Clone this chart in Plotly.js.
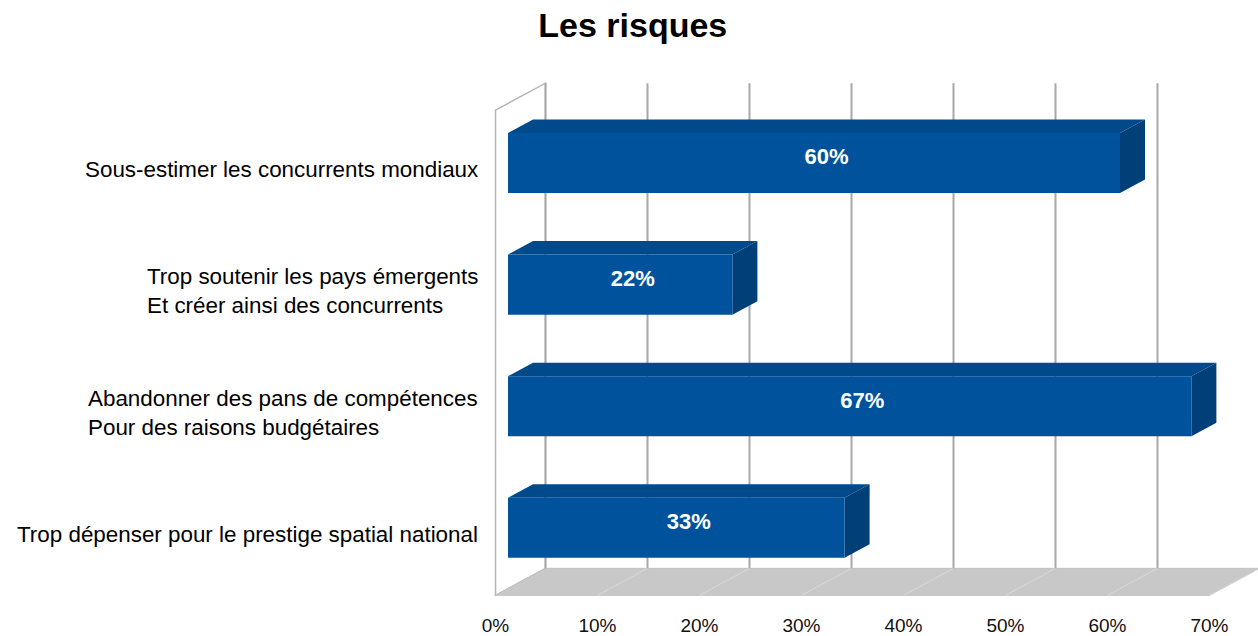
<!DOCTYPE html>
<html><head><meta charset="utf-8">
<script src="https://cdn.plot.ly/plotly-3.0.1.min.js"></script>
<style>html,body{margin:0;padding:0;background:#fff}#chart{width:1258px;height:636px}</style>
</head><body><div id="chart"></div>
<script>
const chartTitle = 'Les risques';
const categories = [
  'Sous-estimer les concurrents mondiaux',
  'Trop soutenir les pays émergents<br>Et créer ainsi des concurrents',
  'Abandonner des pans de compétences<br>Pour des raisons budgétaires',
  'Trop dépenser pour le prestige spatial national'
];
const values = [60, 22, 67, 33];
const tickValues = [0, 10, 20, 30, 40, 50, 60, 70];
const tickLabels = ['0%', '10%', '20%', '30%', '40%', '50%', '60%', '70%'];

// ---- layout geometry (pixels) ----
const W = 1258, H = 636, MB = 36;
const plotH = H - MB;
const pxPerX = 10.2, zeroPx = 508;
const pxPerY = 121.6, firstPx = 163;
const toX = px => px / pxPerX;
const toY = px => px / pxPerY;
const xr = [-zeroPx / pxPerX, (W - zeroPx) / pxPerX];
const yr = [(plotH - firstPx) / pxPerY, -firstPx / pxPerY];
const DX = 50, DY = 27;               // full depth of the 3D box
const front = {x: toX(-0.25 * DX), y: toY(0.25 * DY)};
const back = {x: toX(0.75 * DX), y: toY(-0.75 * DY)};
const barBack = {x: toX(0.5 * DX), y: toY(-0.5 * DY)};
const labelShift = {x: toX(0.25 * DX), y: toY(-0.15 * DY)};
const idx = categories.map((c, i) => i);
const floorY = categories.length - 0.5;
const wallTop = -0.49;
const xMax = tickValues[tickValues.length - 1];
const half = 0.247;

const C_FRONT = '#00529c', C_TOP = '#004a8c', C_SIDE = '#003f78';
const FONT = '"Liberation Sans", Arial, sans-serif';

const poly = pts => 'M ' + pts.map(p => p[0] + ',' + p[1]).join(' L ') + ' Z';
const shapes = [];
// left wall
shapes.push({type: 'path', xref: 'x', yref: 'y', layer: 'below',
  path: poly([[front.x, floorY + front.y], [back.x, floorY + back.y], [back.x, wallTop + back.y], [front.x, wallTop + front.y]]),
  fillcolor: '#ffffff', line: {color: '#b5b5b5', width: 1.5}});
// floor
shapes.push({type: 'path', xref: 'x', yref: 'y', layer: 'below',
  path: poly([[front.x, floorY + front.y], [xMax + front.x, floorY + front.y], [xMax + back.x, floorY + back.y], [back.x, floorY + back.y]]),
  fillcolor: '#c8c8c8', line: {color: '#c2c2c2', width: 1}});
// floor lines
tickValues.forEach(t => {
  if (t === 0) return;
  shapes.push({type: 'line', xref: 'x', yref: 'y', layer: 'below',
    x0: t + front.x, y0: floorY + front.y, x1: t + back.x, y1: floorY + back.y,
    line: {color: '#d8d8d8', width: 1}});
});
// back wall gridlines
tickValues.forEach(t => {
  shapes.push({type: 'line', xref: 'x', yref: 'y', layer: 'below',
    x0: t + back.x, y0: floorY + back.y, x1: t + back.x, y1: wallTop + back.y,
    line: {color: '#a8a8a8', width: 2}});
});
// bar top and side faces
values.forEach((v, i) => {
  const y0 = i - half, y1 = i + half;
  shapes.push({type: 'path', xref: 'x', yref: 'y', layer: 'below',
    path: poly([[0, y0], [v, y0], [v + barBack.x, y0 + barBack.y], [barBack.x, y0 + barBack.y]]),
    fillcolor: C_TOP, line: {width: 0}});
  shapes.push({type: 'path', xref: 'x', yref: 'y', layer: 'below',
    path: poly([[v, y0], [v + barBack.x, y0 + barBack.y], [v + barBack.x, y1 + barBack.y], [v, y1]]),
    fillcolor: C_SIDE, line: {width: 0}});
});

const annotations = categories.map((c, i) => ({
  xref: 'x', yref: 'y', x: front.x + toX(-16), y: i + front.y,
  text: c, showarrow: false, xanchor: 'right', yanchor: 'middle', align: 'left',
  font: {family: FONT, size: 22.4, color: '#000000'}
}));

const traces = [
  {type: 'bar', orientation: 'h', x: values, y: idx, width: 2 * half,
   marker: {color: C_FRONT, line: {width: 0}}, hoverinfo: 'none', showlegend: false},
  {type: 'scatter', mode: 'text', x: values.map(v => v / 2 + labelShift.x), y: idx.map(i => i + labelShift.y),
   text: values.map(v => v + '%'), textposition: 'middle center',
   textfont: {family: FONT, size: 22, color: '#ffffff', weight: 'bold'}, hoverinfo: 'none', showlegend: false},
  {type: 'scatter', mode: 'markers', x: [], y: [], xaxis: 'x2', yaxis: 'y', showlegend: false, hoverinfo: 'none'}
];

const layout = {
  width: W, height: H,
  margin: {l: 0, r: 0, t: 0, b: MB, pad: 0},
  paper_bgcolor: '#ffffff', plot_bgcolor: 'rgba(0,0,0,0)',
  showlegend: false,
  title: {text: '<b>' + chartTitle + '</b>', x: 0.503, xref: 'container', xanchor: 'center',
          y: 1 - 25 / H, yref: 'container', yanchor: 'middle',
          font: {family: FONT, size: 34, color: '#000000'}},
  xaxis: {range: xr, showgrid: false, zeroline: false, showticklabels: false, showline: false, ticks: '', fixedrange: true},
  xaxis2: {overlaying: 'x', anchor: 'y', side: 'bottom', range: [xr[0] - front.x, xr[1] - front.x],
           tickmode: 'array', tickvals: tickValues, ticktext: tickLabels,
           showgrid: false, zeroline: false, showline: false, ticks: '', ticklabelstandoff: 12,
           tickfont: {family: FONT, size: 19, color: '#111111'}, fixedrange: true},
  yaxis: {type: 'linear', range: yr, showgrid: false, zeroline: false, showticklabels: false, showline: false, ticks: '', fixedrange: true},
  shapes: shapes,
  annotations: annotations
};

Plotly.newPlot('chart', traces, layout, {displayModeBar: false, staticPlot: true});
</script>
</body></html>
